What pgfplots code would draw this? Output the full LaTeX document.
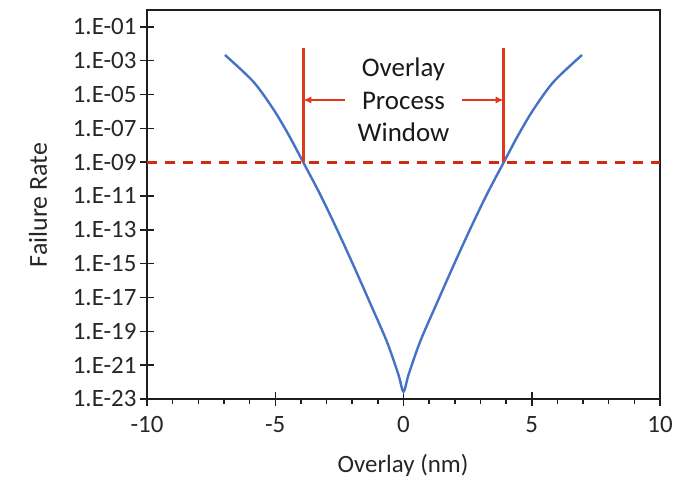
\documentclass[border=0pt]{standalone}
\usepackage{fontspec}
\setmainfont{Carlito}
\usepackage{pgfplots}
\pgfplotsset{compat=1.18}
\usetikzlibrary{arrows.meta}
\definecolor{cblue}{HTML}{4472C4}
\definecolor{cred}{RGB}{206,44,16}
\definecolor{cred2}{RGB}{222,56,30}
\definecolor{axgray}{RGB}{30,30,30}
\begin{document}
\begin{tikzpicture}
\path[use as bounding box] (-147bp,-79bp) rectangle (540bp,399bp);
\begin{axis}[
  scale only axis, width=513bp, height=389bp,
  xmin=-10, xmax=10, ymode=log, ymin=1e-23, ymax=1,
  axis line style={draw=axgray, line width=2bp},
  every tick/.style={draw=axgray, line width=1.5bp},
  tick align=center,
  major tick length=14bp,
  minor tick length=5bp,
  minor x tick style={yshift=-2.5bp},
  xtick pos=bottom, ytick pos=left,
  xtick={-10,-5,0,5,10},
  xticklabels={-10,-5,0,5,10},
  minor xtick={-9,-8,-7,-6,-4,-3,-2,-1,1,2,3,4,6,7,8,9},
  ytick={1e-23,1e-21,1e-19,1e-17,1e-15,1e-13,1e-11,1e-9,1e-7,1e-5,1e-3,1e-1},
  yticklabels={1.E-23,1.E-21,1.E-19,1.E-17,1.E-15,1.E-13,1.E-11,1.E-09,1.E-07,1.E-05,1.E-03,1.E-01},
  yminorticks=false,
  xticklabel style={font=\fontsize{25}{29}\selectfont, text=black!85, yshift=-7bp},
  yticklabel style={font=\fontsize{25}{29}\selectfont, text=black!85},
  /pgf/number format/assume math mode=true,
]
\addplot[cblue, line width=2.4bp, smooth, tension=0.5] coordinates {
(-6.96,2.19e-3) (-5.86,5.89e-5) (-5.08,1.41e-6) (-4.49,4.47e-8) (-3.91,1e-9)
(-3.25,1.26e-11) (-2.60,1.12e-13) (-1.96,8.51e-16) (-1.31,5.01e-18) (-0.65,2.51e-20)
(-0.20,2.82e-22) (0,2.69e-23)
(0.20,2.82e-22) (0.65,2.51e-20) (1.31,5.01e-18) (1.96,8.51e-16) (2.60,1.12e-13)
(3.25,1.26e-11) (3.91,1e-9) (4.49,4.47e-8) (5.08,1.41e-6) (5.86,5.89e-5)
(6.96,2.19e-3)
};
\addplot[cred, line width=2.8bp, dash pattern=on 10bp off 8bp] coordinates {(-10,1e-9) (10,1e-9)};
\addplot[draw=cred2, line width=2.2bp] coordinates {(-3.9,1e-9) (-3.9,5.5e-3)};
\addplot[draw=cred2, line width=2.2bp] coordinates {(3.9,1e-9) (3.9,5.5e-3)};
\draw[cred2, line width=2bp, -{Latex[length=8bp,width=7.5bp]}] (axis cs:-2.28,4.8e-6) -- (axis cs:-3.9,4.8e-6);
\draw[cred2, line width=2bp, -{Latex[length=8bp,width=7.5bp]}] (axis cs:2.27,4.8e-6) -- (axis cs:3.9,4.8e-6);
\node[align=center, font=\fontsize{27}{32.5}\selectfont, text=black!90] at (axis cs:0,4.8e-6) {Overlay\\Process\\Window};
\end{axis}
\node[rotate=90, font=\fontsize{26}{30}\selectfont, text=black!85] at (-109bp,194bp) {Failure Rate};
\node[font=\fontsize{25}{30}\selectfont, text=black!85] at (256bp,-66bp) {Overlay (nm)};
\end{tikzpicture}
\end{document}
